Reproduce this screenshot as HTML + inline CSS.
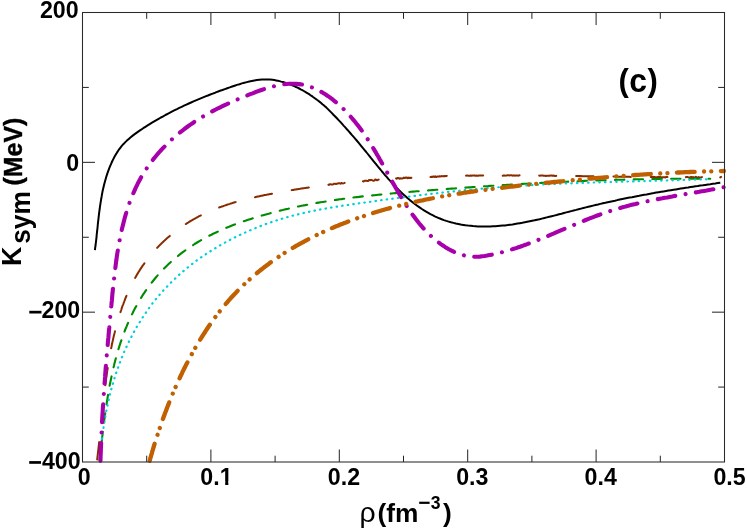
<!DOCTYPE html>
<html><head><meta charset="utf-8"><title>Ksym</title>
<style>
html,body{margin:0;padding:0;background:#fff;}
body{width:747px;height:531px;overflow:hidden;position:relative;font-family:"Liberation Sans",sans-serif;}
</style></head><body>
<svg width="747" height="531" viewBox="0 0 747 531" style="position:absolute;left:0;top:0;display:block;will-change:transform">
<rect x="0" y="0" width="747" height="531" fill="#fff"/>
<path d="M146.70,462.0 v-6.3 M146.70,12.5 v6.3 M210.90,462.0 v-12.5 M210.90,12.5 v12.5 M275.10,462.0 v-6.3 M275.10,12.5 v6.3 M339.30,462.0 v-12.5 M339.30,12.5 v12.5 M403.50,462.0 v-6.3 M403.50,12.5 v6.3 M467.70,462.0 v-12.5 M467.70,12.5 v12.5 M531.90,462.0 v-6.3 M531.90,12.5 v6.3 M596.10,462.0 v-12.5 M596.10,12.5 v12.5 M660.30,462.0 v-6.3 M660.30,12.5 v6.3 M82.5,87.42 h6.3 M724.5,87.42 h-6.3 M82.5,162.33 h12.5 M724.5,162.33 h-12.5 M82.5,237.25 h6.3 M724.5,237.25 h-6.3 M82.5,312.17 h12.5 M724.5,312.17 h-12.5 M82.5,387.08 h6.3 M724.5,387.08 h-6.3" fill="none" stroke="#222" stroke-width="1"/>
<clipPath id="cp"><rect x="82.5" y="12.5" width="645.0" height="451.4"/></clipPath>
<g fill="none" stroke-linejoin="round" clip-path="url(#cp)">
<path d="M94.9,250.1 L95.2,247.6 L95.6,245.0 L95.9,242.5 L96.2,239.9 L96.5,237.3 L96.7,234.8 L97.0,232.2 L97.3,229.6 L97.6,227.0 L97.8,224.5 L98.1,221.9 L98.4,219.3 L98.7,216.7 L99.0,214.2 L99.3,211.6 L99.7,209.0 L100.0,206.4 L100.4,203.9 L100.8,201.3 L101.2,198.8 L101.7,196.2 L102.1,193.7 L102.6,191.1 L103.2,188.6 L103.8,186.1 L104.4,183.6 L105.1,181.1 L105.8,178.6 L106.5,176.1 L107.3,173.6 L108.2,171.1 L109.1,168.7 L110.0,166.3 L111.1,163.9 L112.1,161.5 L113.3,159.1 L114.5,156.8 L115.8,154.6 L117.1,152.4 L118.5,150.2 L120.1,148.1 L121.6,146.1 L123.3,144.2 L125.1,142.4 L126.9,140.6 L128.8,138.9 L130.7,137.2 L132.7,135.6 L134.7,134.1 L136.8,132.6 L138.9,131.1 L141.1,129.7 L143.2,128.2 L145.4,126.8 L147.6,125.4 L149.7,124.1 L152.0,122.7 L154.2,121.4 L156.4,120.1 L158.6,118.8 L160.9,117.5 L163.2,116.3 L165.4,115.0 L167.7,113.8 L170.0,112.6 L172.3,111.4 L174.7,110.2 L177.0,109.1 L179.3,107.9 L181.7,106.8 L184.0,105.7 L186.4,104.6 L188.8,103.5 L191.1,102.5 L193.5,101.4 L195.9,100.4 L198.3,99.4 L200.7,98.4 L203.1,97.4 L205.5,96.4 L207.9,95.5 L210.3,94.5 L212.7,93.6 L215.2,92.7 L217.6,91.7 L220.0,90.8 L222.4,90.0 L224.9,89.1 L227.3,88.2 L229.7,87.4 L232.2,86.5 L234.6,85.7 L237.0,84.9 L239.5,84.2 L241.9,83.4 L244.4,82.7 L246.9,82.1 L249.3,81.5 L251.8,81.0 L254.4,80.5 L256.9,80.1 L259.4,79.8 L262.0,79.6 L264.6,79.5 L267.3,79.5 L269.9,79.6 L272.6,79.8 L274.4,80.1 L276.1,80.4 L277.8,80.7 L279.5,81.1 L281.2,81.6 L282.9,82.0 L284.6,82.5 L286.3,83.1 L287.9,83.6 L289.6,84.2 L291.2,84.9 L292.8,85.5 L294.4,86.2 L296.0,87.0 L297.6,87.7 L299.2,88.5 L300.7,89.3 L302.3,90.1 L303.8,91.0 L305.3,91.9 L306.8,92.8 L308.3,93.7 L309.8,94.7 L311.2,95.7 L312.7,96.7 L314.1,97.7 L315.5,98.7 L316.9,99.8 L318.3,100.8 L319.7,101.9 L321.1,103.0 L322.4,104.2 L323.8,105.3 L325.1,106.4 L326.4,107.6 L328.2,109.4 L329.9,111.1 L331.7,112.9 L333.4,114.7 L335.2,116.5 L336.9,118.3 L338.6,120.1 L340.3,121.9 L341.9,123.7 L343.6,125.6 L345.3,127.4 L346.9,129.3 L348.6,131.1 L350.2,133.0 L351.8,134.9 L353.4,136.7 L355.1,138.6 L356.7,140.5 L358.3,142.4 L359.9,144.3 L361.5,146.3 L363.0,148.2 L364.6,150.1 L366.2,152.0 L367.8,154.0 L369.3,155.9 L370.9,157.9 L372.5,159.8 L374.1,161.8 L375.6,163.7 L377.2,165.7 L378.8,167.6 L380.4,169.5 L382.0,171.5 L383.6,173.4 L385.2,175.3 L386.9,177.2 L388.5,179.1 L390.2,180.9 L391.9,182.8 L393.6,184.6 L395.3,186.4 L397.1,188.2 L398.8,190.0 L400.6,191.8 L402.4,193.5 L404.3,195.2 L406.1,196.8 L408.0,198.5 L409.9,200.1 L411.9,201.7 L413.8,203.2 L415.8,204.7 L417.8,206.2 L419.9,207.6 L421.9,209.0 L424.0,210.3 L426.1,211.6 L428.3,212.9 L430.4,214.1 L432.6,215.2 L434.8,216.3 L437.1,217.3 L439.3,218.3 L441.6,219.2 L443.9,220.1 L446.3,220.9 L448.6,221.6 L451.0,222.3 L453.4,222.9 L455.8,223.5 L458.3,224.0 L460.7,224.5 L463.2,224.9 L465.6,225.3 L468.1,225.6 L470.6,225.8 L473.0,226.1 L475.5,226.2 L478.0,226.4 L480.5,226.5 L482.9,226.5 L485.4,226.5 L487.9,226.5 L490.3,226.4 L492.8,226.3 L495.3,226.2 L497.7,226.0 L500.2,225.8 L502.7,225.6 L505.1,225.4 L507.6,225.1 L510.0,224.7 L512.5,224.4 L515.0,224.0 L517.4,223.6 L519.9,223.2 L522.3,222.8 L524.8,222.3 L527.2,221.8 L529.7,221.3 L532.1,220.8 L534.6,220.3 L537.1,219.7 L539.5,219.2 L541.9,218.6 L544.4,218.0 L546.8,217.4 L549.3,216.8 L551.7,216.2 L554.2,215.6 L556.6,215.0 L559.1,214.3 L561.5,213.7 L563.9,213.0 L566.4,212.4 L568.8,211.8 L571.3,211.1 L573.7,210.5 L576.1,209.9 L578.6,209.2 L581.0,208.6 L583.4,208.0 L585.9,207.4 L588.3,206.8 L590.7,206.2 L593.1,205.6 L595.6,205.0 L598.0,204.5 L600.4,203.9 L602.9,203.3 L605.3,202.8 L607.7,202.2 L610.1,201.7 L612.6,201.2 L615.0,200.7 L617.4,200.1 L619.8,199.6 L622.3,199.1 L624.7,198.6 L627.1,198.1 L629.5,197.6 L632.0,197.2 L634.4,196.7 L636.8,196.2 L639.2,195.8 L641.7,195.3 L644.1,194.8 L646.5,194.4 L649.0,193.9 L651.4,193.5 L653.8,193.1 L656.3,192.6 L658.7,192.2 L661.1,191.8 L663.6,191.4 L666.0,191.0 L668.5,190.6 L670.9,190.2 L673.4,189.8 L675.8,189.4 L678.3,189.0 L680.7,188.6 L683.2,188.2 L685.6,187.8 L688.1,187.5 L690.5,187.1 L693.0,186.7 L695.5,186.3 L697.9,186.0 L700.4,185.6 L702.9,185.3 L705.4,184.9 L707.9,184.5 L710.3,184.2 L712.8,183.8 L715.3,183.5 L717.8,183.1 L720.3,182.8" stroke="#000" stroke-width="2.0" stroke-dashoffset="0"/>
<path d="M97.0,460.9 L97.1,460.1 L97.2,459.2 L97.3,458.4 L97.4,457.5 L97.5,456.7 L97.6,455.8 L97.7,455.0 L97.8,454.1 L97.9,453.2 L98.0,452.4 L98.1,451.5 L98.2,450.7 L98.3,449.8 L98.4,449.0 L98.5,448.1 L98.6,447.2 L98.7,446.4 L98.8,445.5 L98.9,444.6 L99.0,443.8 L99.1,442.9 L99.2,442.0 L99.2,441.2 L99.3,440.3 L99.4,439.4 L99.5,438.6 L99.6,437.7 L99.7,436.8 L99.8,435.9 L99.9,435.1 L100.0,434.2 L100.1,433.3 L100.2,432.4 L100.2,431.6 L100.3,430.7 L100.4,429.8 L100.5,428.9 L100.6,428.1 L100.7,427.2 L100.8,426.3 L100.9,425.4 L101.0,424.5 L101.1,423.7 L101.1,422.8 L101.2,421.9 L101.3,421.0 L101.4,420.1 L101.5,419.3 L101.6,418.4 L101.7,417.5 L101.8,416.6 L101.9,415.7 L102.0,414.8 L102.0,413.9 L102.1,413.1 L102.2,412.2 L102.3,411.3 L102.4,410.4 L102.5,409.5 L102.6,408.6 L102.7,407.7 L102.8,406.8 L102.9,405.9 L103.0,405.0 L103.1,404.2 L103.2,403.3 L103.3,402.4 L103.4,401.5 L103.5,400.6 L103.6,399.7 L103.7,398.8 L103.8,397.9 L103.9,397.0 L104.0,396.1 L104.1,395.2 L104.2,394.3 L104.3,393.4 L104.4,392.5 L104.5,391.6 L104.6,390.7 L104.7,389.8 L104.8,389.0 L104.9,388.1 L105.0,387.2 L105.2,386.3 L105.3,385.4 L105.4,384.5 L105.5,383.6 L105.6,382.7 L105.7,381.8 L105.9,380.9 L106.0,380.0 L106.1,379.1 L106.2,378.2 L106.3,377.3 L106.5,376.4 L106.6,375.5 L106.7,374.6 L106.9,373.7 L107.0,372.8 L107.1,371.9 L107.2,371.0 L107.4,370.1 L107.5,369.2 L107.7,368.3 L107.8,367.4 L107.9,366.5 L108.1,365.6 L108.2,364.7 L108.4,363.8 L108.5,362.9 L108.7,362.0 L108.8,361.1 L109.0,360.2 L109.1,359.3 L109.3,358.4 L109.4,357.5 L109.6,356.6 L109.8,355.7 L109.9,354.8 L110.1,353.9 L110.3,353.0 L110.4,352.1 L110.6,351.2 L110.8,350.3 L110.9,349.4 L111.1,348.5 L111.3,347.6 L111.5,346.7 L111.7,345.8 L111.8,344.9 L112.0,344.1 L112.2,343.2 L112.4,342.3 L112.6,341.4 L112.8,340.5 L113.0,339.6 L113.2,338.7 L113.4,337.8 L113.6,336.9 L113.8,336.0 L114.0,335.1 L114.2,334.2 L114.5,333.3 L114.7,332.5 L114.9,331.6 L115.1,330.7 L115.3,329.8 L115.6,328.9 L115.8,328.0 L116.0,327.1 L116.3,326.3 L116.5,325.4 L116.7,324.5 L117.0,323.6 L117.2,322.7 L117.5,321.9 L117.7,321.0 L118.0,320.1 L118.2,319.2 L118.5,318.4 L118.8,317.5 L119.0,316.6 L119.3,315.8 L119.6,314.9 L119.8,314.0 L120.1,313.2 L120.4,312.3 L120.7,311.4 L121.0,310.6 L121.3,309.7 L121.5,308.9 L121.8,308.0 L122.1,307.2 L122.4,306.3 L122.7,305.4 L123.1,304.6 L123.4,303.8 L123.7,302.9 L124.0,302.1 L124.3,301.2 L124.7,300.4 L125.0,299.5 L125.3,298.7 L125.6,297.9 L126.0,297.0 L126.3,296.2 L126.7,295.4 L127.0,294.6 L127.4,293.7 L127.7,292.9 L128.1,292.1 L128.5,291.3 L128.8,290.5 L129.2,289.6 L129.6,288.8 L130.0,288.0 L130.3,287.2 L130.7,286.4 L131.1,285.6 L131.5,284.8 L131.9,284.0 L132.3,283.2 L132.7,282.4 L133.1,281.6 L133.5,280.9 L134.0,280.1 L134.4,279.3 L134.8,278.5 L135.2,277.7 L135.7,277.0 L136.1,276.2 L136.5,275.4 L137.0,274.7 L137.4,273.9 L137.9,273.1 L138.4,272.4 L138.8,271.6 L139.3,270.9 L139.8,270.1 L140.2,269.4 L140.7,268.7 L141.2,267.9 L141.7,267.2 L142.2,266.4 L142.7,265.7 L143.2,265.0 L143.7,264.3 L144.2,263.6 L144.7,262.8 L145.2,262.1 L145.8,261.4 L146.3,260.7 L146.8,260.0 L147.4,259.3 L147.9,258.6 L148.4,257.9 L149.0,257.2 L149.5,256.5 L150.1,255.9 L150.7,255.2 L151.2,254.5 L151.8,253.8 L152.4,253.2 L152.9,252.5 L153.5,251.8 L154.1,251.2 L154.7,250.5 L155.3,249.9 L155.9,249.2 L156.5,248.6 L157.1,247.9 L157.7,247.3 L158.3,246.6 L158.9,246.0 L159.5,245.4 L160.1,244.8 L160.8,244.1 L161.4,243.5 L162.0,242.9 L162.7,242.3 L163.3,241.7 L163.9,241.1 L164.6,240.5 L165.2,239.9 L165.9,239.3 L166.5,238.7 L167.2,238.1 L167.9,237.5 L168.5,237.0 L169.2,236.4 L169.9,235.8 L170.5,235.3 L171.2,234.7 L171.9,234.1 L172.6,233.6 L173.3,233.0 L174.0,232.5 L174.7,231.9 L175.4,231.4 L176.1,230.9 L176.8,230.3 L177.5,229.8 L178.2,229.3 L178.9,228.8 L179.6,228.2 L180.3,227.7 L181.0,227.2 L181.8,226.7 L182.5,226.2 L183.2,225.7 L184.0,225.2 L184.7,224.7 L185.4,224.3 L186.2,223.8 L186.9,223.3 L187.7,222.8 L188.4,222.4 L189.2,221.9 L189.9,221.4 L190.7,221.0 L191.4,220.5 L192.2,220.1 L193.0,219.6 L193.7,219.2 L194.5,218.8 L195.3,218.3 L196.1,217.9 L196.8,217.5 L197.6,217.1 L198.4,216.7 L199.2,216.2 L200.0,215.8 L200.8,215.4 L201.5,215.0 L202.3,214.7 L203.1,214.3 L203.9,213.9 L204.7,213.5 L205.5,213.1 L206.3,212.8 L207.2,212.4 L208.0,212.0 L208.8,211.7 L209.6,211.3 L210.4,211.0 L211.2,210.6 L212.0,210.3 L212.9,209.9 L213.7,209.6 L214.5,209.3 L215.3,208.9 L216.2,208.6 L217.0,208.3 L217.8,208.0 L218.7,207.7 L219.5,207.4 L220.3,207.0 L221.2,206.7 L222.0,206.4 L222.9,206.2 L223.7,205.9 L224.6,205.6 L225.4,205.3 L226.3,205.0 L227.1,204.7 L228.0,204.4 L228.8,204.2 L229.7,203.9 L230.5,203.6 L231.4,203.4 L232.2,203.1 L233.1,202.8 L234.0,202.6 L234.8,202.3 L235.7,202.1 L236.6,201.8 L237.4,201.6 L238.3,201.4 L239.2,201.1 L240.0,200.9 L240.9,200.6 L241.8,200.4 L242.6,200.2 L243.5,199.9 L244.4,199.7 L245.3,199.5 L246.1,199.3 L247.0,199.1 L247.9,198.8 L248.8,198.6 L249.7,198.4 L250.5,198.2 L251.4,198.0 L252.3,197.8 L253.2,197.6 L254.1,197.4 L255.0,197.2 L255.8,197.0 L256.7,196.8 L257.6,196.6 L258.5,196.4 L259.4,196.2 L260.3,196.0 L261.2,195.8 L262.0,195.7 L262.9,195.5 L263.8,195.3 L264.7,195.1 L265.6,194.9 L266.5,194.8 L267.4,194.6 L268.3,194.4 L269.2,194.2 L270.1,194.0 L270.9,193.9 L271.8,193.7 L272.7,193.5 L273.6,193.4 L274.5,193.2 L275.4,193.0 L276.3,192.9 L277.2,192.7 L278.1,192.5 L279.0,192.4 L279.8,192.2 L280.7,192.0 L281.6,191.9 L282.5,191.7 L283.4,191.6 L284.3,191.4 L285.2,191.3 L286.1,191.1 L287.0,190.9 L287.9,190.8 L288.8,190.6 L289.7,190.5 L290.5,190.3 L291.4,190.2 L292.3,190.0 L293.2,189.9 L294.1,189.7 L295.0,189.6 L295.9,189.5 L296.8,189.3 L297.7,189.2 L298.6,189.0 L299.5,188.9 L300.3,188.7 L301.2,188.6 L302.1,188.5 L303.0,188.3 L303.9,188.2 L304.8,188.1 L305.7,187.9 L306.6,187.8 L307.5,187.7 L308.4,187.5 L309.3,187.4 L310.2,187.3 L311.0,187.1 L311.9,187.0 L312.8,186.9 L313.7,186.8 L314.6,186.6 L315.5,186.5 L316.4,186.4 L317.3,186.3 L318.2,186.1 L319.1,186.0 L320.0,185.9 L320.9,185.8 L321.7,185.7 L322.6,185.4 L323.5,185.5 L324.4,185.4 L325.3,185.1 L326.2,185.2 L327.1,184.7 L328.0,184.6 L328.9,184.9 L329.8,184.3 L330.7,184.3 L331.6,184.4 L332.4,184.4 L333.3,184.3 L334.2,183.7 L335.1,183.8 L336.0,184.0 L336.9,183.7 L337.8,183.4 L338.7,183.2 L339.6,183.3 L340.5,183.7 L341.4,182.9 L342.3,183.2 L343.2,183.4 L344.0,183.1 L344.9,182.7 L345.8,182.9 L346.7,182.3 L347.6,182.6 L348.5,182.3 L349.4,182.7 L350.3,182.6 L351.2,182.4 L352.1,182.0 L353.0,182.3 L353.9,182.4 L354.8,181.7 L355.7,181.8 L356.5,181.3 L357.4,181.2 L358.3,181.7 L359.2,181.0 L360.1,181.4 L361.0,180.9 L361.9,181.3 L362.8,181.3 L363.7,181.5 L364.6,180.8 L365.5,180.7 L366.4,180.7 L367.3,180.9 L368.1,180.9 L369.0,180.1 L369.9,180.3 L370.8,179.9 L371.7,180.0 L372.6,180.5 L373.5,180.7 L374.4,180.6 L375.3,179.5 L376.2,179.8 L377.1,180.3 L378.0,179.8 L378.9,179.5 L379.8,180.0 L380.6,180.0 L381.5,179.1 L382.4,179.5 L383.3,179.0 L384.2,179.0 L385.1,179.3 L386.0,178.9 L386.9,179.5 L387.8,178.9 L388.7,178.7 L389.6,179.1 L390.5,178.6 L391.4,178.4 L392.3,179.3 L393.2,178.4 L394.0,178.3 L394.9,178.6 L395.8,178.1 L396.7,178.8 L397.6,178.0 L398.5,177.9 L399.4,178.8 L400.3,178.3 L401.2,178.6 L402.1,178.5 L403.0,178.3 L403.9,177.6 L404.8,178.1 L405.7,177.6 L406.6,177.5 L407.4,178.2 L408.3,177.6 L409.2,178.0 L410.1,177.7 L411.0,177.9 L411.9,177.7 L412.8,178.0 L413.7,177.5 L414.6,177.8 L415.5,177.7 L416.4,177.5 L417.3,177.4 L418.2,177.3 L419.1,177.4 L420.0,177.0 L420.9,177.1 L421.7,177.3 L422.6,177.0 L423.5,176.9 L424.4,176.7 L425.3,177.2 L426.2,177.3 L427.1,177.2 L428.0,177.1 L428.9,176.9 L429.8,176.5 L430.7,177.1 L431.6,176.7 L432.5,176.9 L433.4,176.4 L434.3,176.9 L435.2,176.3 L436.1,177.0 L436.9,176.7 L437.8,176.6 L438.7,176.6 L439.6,176.3 L440.5,176.4 L441.4,176.1 L442.3,176.2 L443.2,176.2 L444.1,176.1 L445.0,176.2 L445.9,175.9 L446.8,175.9 L447.7,176.1 L448.6,176.6 L449.5,176.4 L450.4,176.1 L451.3,175.9 L452.1,175.8 L453.0,176.0 L453.9,176.2 L454.8,176.3 L455.7,176.0 L456.6,176.3 L457.5,176.2 L458.4,176.2 L459.3,175.8 L460.2,175.9 L461.1,175.7 L462.0,176.0 L462.9,175.6 L463.8,175.8 L464.7,175.6 L465.6,175.8 L466.5,175.6 L467.4,175.5 L468.3,175.7 L469.1,175.7 L470.0,175.8 L470.9,175.5 L471.8,175.7 L472.7,175.6 L473.6,175.5 L474.5,175.6 L475.4,175.8 L476.3,175.6 L477.2,175.8 L478.1,175.8 L479.0,175.4 L479.9,175.5 L480.8,175.5 L481.7,175.6 L482.6,175.6 L483.5,175.6 L484.4,175.4 L485.3,175.5 L486.1,175.4 L487.0,175.7 L487.9,175.6 L488.8,175.5 L489.7,175.7 L490.6,175.4 L491.5,175.3 L492.4,175.5 L493.3,175.6 L494.2,175.7 L495.1,175.5 L496.0,175.3 L496.9,175.5 L497.8,175.3 L498.7,175.6 L499.6,175.4 L500.5,175.3 L501.4,175.3 L502.3,175.6 L503.2,175.7 L504.0,175.3 L504.9,175.7 L505.8,175.6 L506.7,175.4 L507.6,175.3 L508.5,175.3 L509.4,175.4 L510.3,175.3 L511.2,175.3 L512.1,175.4 L513.0,175.7 L513.9,175.3 L514.8,175.7 L515.7,175.5 L516.6,175.6 L517.5,175.5 L518.4,175.7 L519.3,175.3 L520.2,175.4 L521.1,175.5 L522.0,175.5 L522.9,175.4 L523.7,175.4 L524.6,175.3 L525.5,175.5 L526.4,175.7 L527.3,175.7 L528.2,175.5 L529.1,175.8 L530.0,175.8 L530.9,175.5 L531.8,175.4 L532.7,175.7 L533.6,175.8 L534.5,175.7 L535.4,175.8 L536.3,175.6 L537.2,175.6 L538.1,175.4 L539.0,175.6 L539.9,175.8 L540.8,175.4 L541.7,175.5 L542.6,175.4 L543.5,175.7 L544.4,175.7 L545.2,175.7 L546.1,175.9 L547.0,175.8 L547.9,175.8 L548.8,175.8 L549.7,175.7 L550.6,175.5 L551.5,175.5 L552.4,175.8 L553.3,175.6 L554.2,175.7 L555.1,175.9 L556.0,175.9 L556.9,175.7 L557.8,175.7 L558.7,175.7 L559.6,175.9 L560.5,175.9 L561.4,175.7 L562.3,175.8 L563.2,175.8 L564.1,175.9 L565.0,175.9 L565.9,176.0 L566.8,175.9 L567.6,176.0 L568.5,176.0 L569.4,176.0 L570.3,176.0 L571.2,176.0 L572.1,176.0 L573.0,176.0 L573.9,176.0 L574.8,176.1 L575.7,176.1 L576.6,176.1 L577.5,176.1 L578.4,176.1 L579.3,176.1 L580.2,176.1 L581.1,176.1 L582.0,176.2 L582.9,176.2 L583.8,176.2 L584.7,176.2 L585.6,176.2 L586.5,176.2 L587.4,176.2 L588.3,176.2 L589.2,176.3 L590.1,176.3 L591.0,176.3 L591.8,176.3 L592.7,176.3 L593.6,176.3 L594.5,176.3 L595.4,176.4 L596.3,176.4 L597.2,176.4 L598.1,176.4 L599.0,176.4 L599.9,176.4 L600.8,176.4 L601.7,176.5 L602.6,176.5 L603.5,176.5 L604.4,176.5 L605.3,176.5 L606.2,176.5 L607.1,176.5 L608.0,176.5 L608.9,176.6 L609.8,176.6 L610.7,176.6 L611.6,176.6 L612.5,176.6 L613.4,176.6 L614.3,176.6 L615.2,176.6 L616.1,176.7 L617.0,176.7 L617.9,176.7 L618.8,176.7 L619.6,176.7 L620.5,176.7 L621.4,176.7 L622.3,176.7 L623.2,176.8 L624.1,176.8 L625.0,176.8 L625.9,176.8 L626.8,176.8 L627.7,176.8 L628.6,176.8 L629.5,176.8 L630.4,176.9 L631.3,176.9 L632.2,176.9 L633.1,176.9 L634.0,176.9 L634.9,176.9 L635.8,176.9 L636.7,176.9 L637.6,176.9 L638.5,177.0 L639.4,177.0 L640.3,177.0 L641.2,177.0 L642.1,177.0 L643.0,177.0 L643.9,177.0 L644.8,177.0 L645.7,177.0 L646.6,177.2 L647.5,177.0 L648.4,177.0 L649.3,177.1 L650.2,177.1 L651.0,176.9 L651.9,177.2 L652.8,176.8 L653.7,177.0 L654.6,177.1 L655.5,177.2 L656.4,177.2 L657.3,177.2 L658.2,176.8 L659.1,177.0 L660.0,177.3 L660.9,177.1 L661.8,177.4 L662.7,177.2 L663.6,177.2 L664.5,177.3 L665.4,177.5 L666.3,176.8 L667.2,176.9 L668.1,176.9 L669.0,177.0 L669.9,176.8 L670.8,177.6 L671.7,176.9 L672.6,177.2 L673.5,177.5 L674.4,177.2 L675.3,177.0 L676.2,177.1 L677.1,177.2 L678.0,177.1 L678.9,177.2 L679.8,177.2 L680.7,176.9 L681.6,177.5 L682.5,177.6 L683.4,177.3 L684.3,176.9 L685.2,177.6 L686.0,177.1 L686.9,177.1 L687.8,177.0 L688.7,177.6 L689.6,177.4 L690.5,177.1 L691.4,177.1 L692.3,177.2 L693.2,177.1 L694.1,177.4 L695.0,177.6 L695.9,176.8 L696.8,177.5 L697.7,177.5 L698.6,177.0 L699.5,177.6 L700.4,177.5 L701.3,177.4 L702.2,176.8 L703.1,177.1 L704.0,177.4 L704.9,177.2 L705.8,176.8 L706.7,177.4 L707.6,177.0 L708.5,176.9 L709.4,177.0 L710.3,176.8 L711.2,177.0 L712.1,176.7 L713.0,177.5 L713.9,176.8 L714.8,176.9 L715.7,176.9 L716.6,177.0 L717.5,176.9 L718.4,177.3 L719.3,176.7 L720.2,177.4 L721.1,176.9" stroke="#882c00" stroke-width="2.0" stroke-linecap="round" stroke-dasharray="17.4 19.97" stroke-dashoffset="-1.5"/>
<path d="M99.5,460.9 L99.7,459.1 L99.9,457.3 L100.1,455.4 L100.3,453.6 L100.5,451.8 L100.7,449.9 L100.9,448.1 L101.2,446.3 L101.4,444.4 L101.6,442.5 L101.8,440.7 L102.0,438.8 L102.2,436.9 L102.5,435.1 L102.7,433.2 L102.9,431.3 L103.1,429.4 L103.4,427.5 L103.6,425.6 L103.8,423.7 L104.1,421.8 L104.3,419.9 L104.6,418.0 L104.8,416.1 L105.1,414.1 L105.4,412.2 L105.6,410.3 L105.9,408.4 L106.2,406.5 L106.5,404.5 L106.8,402.6 L107.1,400.7 L107.4,398.8 L107.7,396.8 L108.0,394.9 L108.3,393.0 L108.7,391.0 L109.0,389.1 L109.4,387.2 L109.7,385.3 L110.1,383.3 L110.5,381.4 L110.9,379.5 L111.3,377.6 L111.7,375.6 L112.1,373.7 L112.5,371.8 L113.0,369.9 L113.4,368.0 L113.9,366.0 L114.3,364.1 L114.8,362.2 L115.3,360.3 L115.8,358.4 L116.3,356.5 L116.9,354.6 L117.4,352.8 L118.0,350.9 L118.5,349.0 L119.1,347.1 L119.7,345.2 L120.3,343.4 L120.9,341.5 L121.6,339.7 L122.2,337.8 L122.9,336.0 L123.5,334.1 L124.2,332.3 L124.9,330.5 L125.6,328.7 L126.4,326.9 L127.1,325.1 L127.9,323.3 L128.7,321.5 L129.5,319.7 L130.3,318.0 L131.1,316.2 L131.9,314.5 L132.8,312.7 L133.6,311.0 L134.5,309.3 L135.4,307.6 L136.4,305.9 L137.3,304.2 L138.2,302.5 L139.2,300.9 L140.2,299.2 L141.2,297.6 L142.2,296.0 L143.2,294.4 L144.3,292.8 L145.4,291.2 L146.5,289.6 L147.6,288.0 L148.7,286.5 L149.8,285.0 L151.0,283.5 L152.2,282.0 L153.4,280.5 L154.6,279.0 L155.8,277.5 L157.0,276.1 L158.3,274.7 L159.6,273.3 L160.9,271.9 L162.2,270.5 L163.5,269.1 L164.8,267.8 L166.2,266.4 L167.6,265.1 L168.9,263.8 L170.3,262.5 L171.8,261.2 L173.2,260.0 L174.6,258.7 L176.1,257.5 L177.6,256.3 L179.0,255.1 L180.5,253.9 L182.1,252.7 L183.6,251.6 L185.1,250.5 L186.7,249.4 L188.2,248.3 L189.8,247.2 L191.4,246.1 L193.0,245.1 L194.6,244.0 L196.3,243.0 L197.9,242.0 L199.5,241.1 L201.2,240.1 L202.9,239.2 L204.6,238.2 L206.3,237.3 L208.0,236.4 L209.7,235.5 L211.4,234.7 L213.1,233.8 L214.9,233.0 L216.6,232.2 L218.4,231.4 L220.1,230.6 L221.9,229.8 L223.7,229.0 L225.4,228.2 L227.2,227.5 L229.0,226.8 L230.8,226.0 L232.6,225.3 L234.5,224.6 L236.3,224.0 L238.1,223.3 L239.9,222.6 L241.8,222.0 L243.6,221.3 L245.4,220.7 L247.3,220.1 L249.1,219.5 L251.0,218.9 L252.8,218.3 L254.7,217.7 L256.5,217.1 L258.4,216.6 L260.2,216.0 L262.1,215.5 L264.0,214.9 L265.8,214.4 L267.7,213.9 L269.6,213.4 L271.4,212.8 L273.3,212.3 L275.2,211.9 L277.0,211.4 L278.9,210.9 L280.8,210.4 L282.7,210.0 L284.6,209.5 L286.4,209.1 L288.3,208.7 L290.2,208.2 L292.1,207.8 L294.0,207.4 L295.9,207.0 L297.8,206.6 L299.7,206.2 L301.6,205.8 L303.4,205.4 L305.3,205.1 L307.2,204.7 L309.1,204.3 L311.0,204.0 L312.9,203.6 L314.8,203.3 L316.7,202.9 L318.7,202.6 L320.6,202.3 L322.5,202.0 L324.4,201.7 L326.3,201.4 L328.2,201.1 L330.1,200.8 L332.0,200.5 L333.9,200.2 L335.8,199.9 L337.8,199.6 L339.7,199.3 L341.6,199.1 L343.5,198.8 L345.4,198.6 L347.3,198.3 L349.3,198.1 L351.2,197.8 L353.1,197.6 L355.0,197.3 L357.0,197.1 L358.9,196.9 L360.8,196.6 L362.7,196.4 L364.6,196.2 L366.6,196.0 L368.5,195.8 L370.4,195.6 L372.4,195.4 L374.3,195.2 L376.2,195.0 L378.1,194.8 L380.1,194.6 L382.0,194.4 L383.9,194.2 L385.9,194.0 L387.8,193.8 L389.7,193.7 L391.6,193.5 L393.6,193.3 L395.5,193.1 L397.4,193.0 L399.4,192.8 L401.3,192.6 L403.2,192.5 L405.2,192.3 L407.1,192.1 L409.0,192.0 L410.9,191.8 L412.9,191.6 L414.8,191.5 L416.7,191.3 L418.7,191.2 L420.6,191.0 L422.5,190.9 L424.5,190.7 L426.4,190.6 L428.3,190.4 L430.2,190.3 L432.2,190.1 L434.1,190.0 L436.0,189.8 L438.0,189.7 L439.9,189.5 L441.8,189.4 L443.7,189.2 L445.7,189.1 L447.6,188.9 L449.5,188.8 L451.5,188.6 L453.4,188.5 L455.3,188.4 L457.2,188.2 L459.2,188.1 L461.1,187.9 L463.0,187.8 L464.9,187.7 L466.9,187.5 L468.8,187.4 L470.7,187.3 L472.6,187.1 L474.6,187.0 L476.5,186.8 L478.4,186.7 L480.3,186.6 L482.3,186.5 L484.2,186.3 L486.1,186.2 L488.0,186.1 L490.0,185.9 L491.9,185.8 L493.8,185.7 L495.7,185.6 L497.7,185.4 L499.6,185.3 L501.5,185.2 L503.4,185.1 L505.4,185.0 L507.3,184.8 L509.2,184.7 L511.1,184.6 L513.1,184.5 L515.0,184.4 L516.9,184.3 L518.8,184.1 L520.8,184.0 L522.7,183.9 L524.6,183.8 L526.5,183.7 L528.5,183.6 L530.4,183.5 L532.3,183.4 L534.2,183.3 L536.2,183.2 L538.1,183.1 L540.0,183.0 L541.9,182.9 L543.9,182.8 L545.8,182.7 L547.7,182.6 L549.6,182.5 L551.6,182.4 L553.5,182.3 L555.4,182.2 L557.3,182.1 L559.3,182.0 L561.2,181.9 L563.1,181.8 L565.0,181.7 L567.0,181.7 L568.9,181.6 L570.8,181.5 L572.7,181.4 L574.7,181.3 L576.6,181.2 L578.5,181.2 L580.5,181.1 L582.4,181.0 L584.3,180.9 L586.2,180.8 L588.2,180.8 L590.1,180.7 L592.0,180.6 L593.9,180.6 L595.9,180.5 L597.8,180.4 L599.7,180.4 L601.7,180.3 L603.6,180.2 L605.5,180.2 L607.5,180.1 L609.4,180.0 L611.3,180.0 L613.2,179.9 L615.2,179.9 L617.1,179.8 L619.0,179.8 L621.0,179.7 L622.9,179.7 L624.8,179.6 L626.8,179.6 L628.7,179.5 L630.6,179.5 L632.6,179.4 L634.5,179.4 L636.4,179.3 L638.4,179.3 L640.3,179.3 L642.2,179.2 L644.2,179.2 L646.1,179.1 L648.0,179.1 L650.0,179.1 L651.9,179.1 L653.8,179.0 L655.8,179.0 L657.7,179.0 L659.7,178.9 L661.6,178.9 L663.5,178.9 L665.5,178.9 L667.4,178.9 L669.4,178.8 L671.3,178.8 L673.2,178.8 L675.2,178.8 L677.1,178.8 L679.1,178.8 L681.0,178.8 L682.9,178.8 L684.9,178.8 L686.8,178.7 L688.8,178.7 L690.7,178.7 L692.7,178.7 L694.6,178.7 L696.5,178.7 L698.5,178.8 L700.4,178.8 L702.4,178.8 L704.3,178.8 L706.3,178.8 L708.2,178.8 L710.2,178.8" stroke="#008c00" stroke-width="2.1" stroke-linecap="round" stroke-dasharray="9.4 9.33" stroke-dashoffset="-1.05"/>
<path d="M99.8,461.3 L99.9,459.4 L100.1,457.6 L100.2,455.7 L100.4,453.9 L100.6,452.0 L100.7,450.2 L100.9,448.3 L101.1,446.4 L101.3,444.6 L101.5,442.7 L101.7,440.8 L102.0,439.0 L102.2,437.1 L102.4,435.2 L102.7,433.4 L102.9,431.5 L103.2,429.6 L103.5,427.7 L103.7,425.9 L104.0,424.0 L104.3,422.1 L104.6,420.2 L105.0,418.4 L105.3,416.5 L105.6,414.6 L106.0,412.8 L106.3,410.9 L106.7,409.0 L107.1,407.2 L107.5,405.3 L107.9,403.4 L108.3,401.6 L108.7,399.7 L109.1,397.9 L109.6,396.0 L110.0,394.1 L110.5,392.3 L111.0,390.5 L111.5,388.6 L112.0,386.8 L112.5,384.9 L113.0,383.1 L113.5,381.3 L114.1,379.4 L114.7,377.6 L115.2,375.8 L115.8,374.0 L116.4,372.2 L117.0,370.4 L117.7,368.6 L118.3,366.8 L119.0,365.0 L119.6,363.2 L120.3,361.4 L121.0,359.6 L121.7,357.8 L122.4,356.1 L123.2,354.3 L123.9,352.5 L124.7,350.8 L125.5,349.1 L126.3,347.3 L127.1,345.6 L127.9,343.9 L128.7,342.1 L129.5,340.4 L130.4,338.7 L131.3,337.0 L132.1,335.3 L133.0,333.7 L133.9,332.0 L134.9,330.3 L135.8,328.7 L136.7,327.0 L137.7,325.4 L138.7,323.7 L139.7,322.1 L140.7,320.5 L141.7,318.9 L142.7,317.3 L143.7,315.7 L144.8,314.2 L145.9,312.6 L146.9,311.0 L148.0,309.5 L149.1,308.0 L150.3,306.4 L151.4,304.9 L152.5,303.4 L153.7,301.9 L154.9,300.4 L156.0,299.0 L157.2,297.5 L158.4,296.1 L159.7,294.6 L160.9,293.2 L162.1,291.8 L163.4,290.4 L164.7,289.0 L166.0,287.7 L167.3,286.3 L168.6,284.9 L169.9,283.6 L171.2,282.3 L172.6,280.9 L173.9,279.6 L175.3,278.4 L176.7,277.1 L178.0,275.8 L179.4,274.5 L180.9,273.3 L182.3,272.1 L183.7,270.8 L185.1,269.6 L186.6,268.4 L188.1,267.2 L189.5,266.0 L191.0,264.9 L192.5,263.7 L194.0,262.6 L195.5,261.4 L197.0,260.3 L198.6,259.2 L200.1,258.1 L201.6,257.0 L203.2,256.0 L204.8,254.9 L206.3,253.8 L207.9,252.8 L209.5,251.8 L211.1,250.8 L212.7,249.7 L214.3,248.8 L216.0,247.8 L217.6,246.8 L219.2,245.8 L220.9,244.9 L222.5,243.9 L224.2,243.0 L225.8,242.1 L227.5,241.2 L229.2,240.3 L230.9,239.4 L232.6,238.6 L234.3,237.7 L236.0,236.8 L237.7,236.0 L239.4,235.2 L241.1,234.4 L242.9,233.6 L244.6,232.8 L246.3,232.0 L248.1,231.2 L249.8,230.5 L251.6,229.7 L253.3,229.0 L255.1,228.3 L256.9,227.5 L258.6,226.8 L260.4,226.2 L262.2,225.5 L264.0,224.8 L265.8,224.1 L267.6,223.5 L269.4,222.9 L271.2,222.2 L273.0,221.6 L274.8,221.0 L276.6,220.4 L278.4,219.9 L280.2,219.3 L282.1,218.7 L283.9,218.2 L285.7,217.6 L287.5,217.1 L289.4,216.6 L291.2,216.1 L293.0,215.6 L294.9,215.1 L296.7,214.7 L298.6,214.2 L300.4,213.8 L302.2,213.3 L304.1,212.9 L305.9,212.5 L307.8,212.1 L309.6,211.7 L311.5,211.3 L313.3,210.9 L315.2,210.5 L317.1,210.1 L318.9,209.8 L320.8,209.4 L322.6,209.1 L324.5,208.7 L326.4,208.4 L328.2,208.1 L330.1,207.7 L332.0,207.4 L333.8,207.1 L335.7,206.8 L337.6,206.5 L339.4,206.2 L341.3,205.9 L343.2,205.6 L345.0,205.4 L346.9,205.1 L348.8,204.8 L350.7,204.5 L352.5,204.2 L354.4,204.0 L356.3,203.7 L358.2,203.4 L360.0,203.2 L361.9,202.9 L363.8,202.6 L365.7,202.4 L367.6,202.1 L369.4,201.9 L371.3,201.6 L373.2,201.3 L375.1,201.1 L377.0,200.8 L378.8,200.6 L380.7,200.3 L382.6,200.1 L384.5,199.8 L386.4,199.5 L388.2,199.3 L390.1,199.0 L392.0,198.8 L393.9,198.5 L395.8,198.3 L397.6,198.0 L399.5,197.8 L401.4,197.6 L403.3,197.3 L405.2,197.1 L407.1,196.8 L408.9,196.6 L410.8,196.3 L412.7,196.1 L414.6,195.9 L416.5,195.6 L418.4,195.4 L420.2,195.2 L422.1,194.9 L424.0,194.7 L425.9,194.5 L427.8,194.3 L429.7,194.0 L431.5,193.8 L433.4,193.6 L435.3,193.4 L437.2,193.2 L439.1,192.9 L441.0,192.7 L442.9,192.5 L444.8,192.3 L446.6,192.1 L448.5,191.9 L450.4,191.7 L452.3,191.5 L454.2,191.3 L456.1,191.1 L458.0,190.9 L459.9,190.7 L461.7,190.5 L463.6,190.3 L465.5,190.1 L467.4,190.0 L469.3,189.8 L471.2,189.6 L473.1,189.4 L475.0,189.2 L476.9,189.1 L478.7,188.9 L480.6,188.7 L482.5,188.6 L484.4,188.4 L486.3,188.3 L488.2,188.1 L490.1,187.9 L492.0,187.8 L493.9,187.6 L495.8,187.5 L497.7,187.3 L499.5,187.2 L501.4,187.1 L503.3,186.9 L505.2,186.8 L507.1,186.7 L509.0,186.5 L510.9,186.4 L512.8,186.3 L514.7,186.2 L516.6,186.0 L518.5,185.9 L520.4,185.8 L522.3,185.7 L524.2,185.6 L526.0,185.5 L527.9,185.3 L529.8,185.2 L531.7,185.1 L533.6,185.0 L535.5,184.9 L537.4,184.8 L539.3,184.7 L541.2,184.6 L543.1,184.5 L545.0,184.4 L546.9,184.3 L548.8,184.3 L550.7,184.2 L552.6,184.1 L554.5,184.0 L556.4,183.9 L558.3,183.8 L560.1,183.7 L562.0,183.7 L563.9,183.6 L565.8,183.5 L567.7,183.4 L569.6,183.4 L571.5,183.3 L573.4,183.2 L575.3,183.1 L577.2,183.1 L579.1,183.0 L581.0,182.9 L582.9,182.9 L584.8,182.8 L586.7,182.7 L588.6,182.7 L590.5,182.6 L592.4,182.5 L594.3,182.5 L596.2,182.4 L598.1,182.4 L600.0,182.3 L601.9,182.2 L603.8,182.2 L605.7,182.1 L607.6,182.1 L609.5,182.0 L611.4,182.0 L613.2,181.9 L615.1,181.8 L617.0,181.8 L618.9,181.7 L620.8,181.7 L622.7,181.6 L624.6,181.6 L626.5,181.5 L628.4,181.5 L630.3,181.4 L632.2,181.4 L634.1,181.3 L636.0,181.3 L637.9,181.2 L639.8,181.2 L641.7,181.1 L643.6,181.1 L645.5,181.0 L647.4,181.0 L649.3,180.9 L651.2,180.9 L653.1,180.8 L655.0,180.8 L656.9,180.7 L658.8,180.7 L660.7,180.6 L662.6,180.6 L664.5,180.5 L666.4,180.5 L668.3,180.4 L670.2,180.4 L672.1,180.3 L674.0,180.3 L675.9,180.2 L677.8,180.2 L679.7,180.1 L681.5,180.0 L683.4,180.0 L685.3,179.9 L687.2,179.9 L689.1,179.8 L691.0,179.8 L692.9,179.7 L694.8,179.6 L696.7,179.6 L698.6,179.5 L700.5,179.5 L702.4,179.4 L704.3,179.3 L706.2,179.3 L708.1,179.2 L710.0,179.1" stroke="#00d0da" stroke-width="2.2" stroke-linecap="round" stroke-dasharray="0.5 5.12" stroke-dashoffset="0"/>
<path d="M100.5,461.8 L100.5,459.2 L100.6,456.7 L100.7,454.1 L100.8,451.6 L100.9,449.0 L101.0,446.5 L101.1,443.9 L101.2,441.4 L101.3,438.8 L101.4,436.3 L101.5,433.8 L101.6,431.3 L101.7,428.8 L101.9,426.3 L102.0,423.8 L102.1,421.3 L102.3,418.8 L102.4,416.3 L102.5,413.8 L102.7,411.3 L102.8,408.8 L103.0,406.3 L103.2,403.8 L103.3,401.4 L103.5,398.9 L103.6,396.4 L103.8,394.0 L104.0,391.5 L104.1,389.0 L104.3,386.6 L104.5,384.1 L104.7,381.6 L104.9,379.2 L105.1,376.7 L105.2,374.3 L105.4,371.8 L105.6,369.4 L105.8,366.9 L106.0,364.4 L106.2,362.0 L106.4,359.5 L106.6,357.1 L106.8,354.6 L107.1,352.2 L107.3,349.7 L107.5,347.3 L107.7,344.8 L107.9,342.3 L108.1,339.9 L108.4,337.4 L108.6,334.9 L108.8,332.5 L109.0,330.0 L109.3,327.5 L109.5,325.1 L109.7,322.6 L110.0,320.1 L110.2,317.6 L110.4,315.1 L110.7,312.7 L110.9,310.2 L111.1,307.7 L111.4,305.2 L111.6,302.7 L111.9,300.2 L112.1,297.7 L112.3,295.1 L112.6,292.6 L112.8,290.1 L113.1,287.6 L113.4,285.1 L113.6,282.5 L113.9,280.0 L114.2,277.5 L114.5,275.0 L114.8,272.5 L115.1,269.9 L115.4,267.4 L115.7,264.9 L116.0,262.4 L116.4,259.9 L116.7,257.4 L117.1,254.8 L117.5,252.3 L117.9,249.8 L118.3,247.4 L118.7,244.9 L119.2,242.4 L119.7,239.9 L120.1,237.4 L120.6,235.0 L121.2,232.5 L121.7,230.1 L122.3,227.6 L122.9,225.2 L123.5,222.8 L124.1,220.4 L124.7,218.0 L125.4,215.6 L126.1,213.2 L126.8,210.9 L127.6,208.5 L128.4,206.2 L129.2,203.8 L130.0,201.5 L130.9,199.2 L131.8,196.9 L132.7,194.6 L133.7,192.4 L134.7,190.1 L135.7,187.9 L136.8,185.7 L137.8,183.5 L139.0,181.3 L140.1,179.2 L141.3,177.0 L142.6,174.9 L143.8,172.8 L145.1,170.7 L146.5,168.7 L147.9,166.6 L149.3,164.6 L150.8,162.6 L152.3,160.6 L153.8,158.6 L155.4,156.7 L157.0,154.8 L158.6,152.9 L160.3,151.0 L162.0,149.2 L163.7,147.4 L165.5,145.6 L167.2,143.8 L169.1,142.0 L170.9,140.3 L172.7,138.6 L174.6,137.0 L176.5,135.3 L178.5,133.7 L180.4,132.1 L182.4,130.6 L184.4,129.0 L186.4,127.5 L188.4,126.0 L190.4,124.6 L192.5,123.2 L194.5,121.8 L196.6,120.5 L198.7,119.1 L200.8,117.8 L202.9,116.6 L205.0,115.3 L207.2,114.1 L209.3,112.9 L211.5,111.7 L213.6,110.6 L215.8,109.5 L218.0,108.3 L220.2,107.3 L222.5,106.2 L224.7,105.1 L227.0,104.1 L229.2,103.0 L231.5,102.0 L233.8,101.0 L236.1,100.0 L238.4,99.0 L240.8,98.1 L243.1,97.1 L245.5,96.1 L247.8,95.2 L250.2,94.2 L252.6,93.3 L255.0,92.3 L257.5,91.4 L259.9,90.5 L262.3,89.7 L264.7,88.9 L267.2,88.1 L269.6,87.4 L272.1,86.7 L274.5,86.1 L277.0,85.5 L279.4,85.0 L281.9,84.6 L284.3,84.3 L286.7,84.0 L289.2,83.8 L291.6,83.7 L294.0,83.8 L296.4,83.9 L298.8,84.1 L301.2,84.4 L303.5,84.8 L305.9,85.4 L308.2,86.1 L310.5,86.9 L312.8,87.7 L315.1,88.7 L317.3,89.8 L319.5,90.9 L321.7,92.1 L323.9,93.4 L326.0,94.8 L328.1,96.2 L330.2,97.7 L332.2,99.2 L334.2,100.8 L336.2,102.4 L338.1,104.0 L340.0,105.7 L341.8,107.4 L343.6,109.1 L345.3,110.9 L347.1,112.7 L348.8,114.5 L350.4,116.3 L352.0,118.2 L353.6,120.1 L355.2,122.0 L356.7,123.9 L358.2,125.8 L359.7,127.8 L361.2,129.8 L362.6,131.8 L364.0,133.8 L365.4,135.9 L366.8,137.9 L368.2,140.0 L369.5,142.1 L370.8,144.2 L372.1,146.3 L373.4,148.4 L374.7,150.6 L376.0,152.7 L377.2,154.9 L378.5,157.0 L379.7,159.2 L381.0,161.4 L382.2,163.6 L383.4,165.8 L384.6,168.0 L385.9,170.2 L387.1,172.4 L388.3,174.6 L389.5,176.8 L390.7,179.0 L392.0,181.2 L393.2,183.4 L394.5,185.6 L395.7,187.8 L397.0,190.0 L398.2,192.2 L399.5,194.4 L400.8,196.5 L402.1,198.7 L403.4,200.9 L404.8,203.0 L406.1,205.1 L407.5,207.3 L408.9,209.4 L410.3,211.4 L411.7,213.5 L413.2,215.6 L414.7,217.6 L416.2,219.6 L417.7,221.5 L419.3,223.5 L420.9,225.4 L422.5,227.3 L424.2,229.1 L425.9,231.0 L427.6,232.7 L429.4,234.5 L431.2,236.2 L433.1,237.9 L434.9,239.5 L436.9,241.1 L438.8,242.6 L440.8,244.1 L442.9,245.5 L445.0,246.9 L447.1,248.2 L449.3,249.5 L451.5,250.6 L453.7,251.7 L456.0,252.7 L458.2,253.6 L460.6,254.4 L462.9,255.1 L465.2,255.7 L467.6,256.2 L470.0,256.5 L472.4,256.7 L474.9,256.8 L477.3,256.7 L479.8,256.6 L482.2,256.3 L484.7,256.0 L487.1,255.6 L489.6,255.1 L492.0,254.6 L494.4,254.1 L496.9,253.5 L499.3,252.9 L501.7,252.3 L504.1,251.7 L506.5,251.0 L508.9,250.3 L511.3,249.6 L513.7,248.8 L516.0,248.1 L518.4,247.3 L520.7,246.5 L523.1,245.6 L525.4,244.8 L527.8,243.9 L530.1,243.0 L532.5,242.2 L534.8,241.3 L537.1,240.3 L539.4,239.4 L541.8,238.5 L544.1,237.5 L546.4,236.6 L548.7,235.6 L551.0,234.6 L553.3,233.7 L555.6,232.7 L557.9,231.7 L560.2,230.7 L562.6,229.7 L564.9,228.7 L567.2,227.8 L569.5,226.8 L571.8,225.8 L574.1,224.8 L576.4,223.8 L578.7,222.9 L581.0,221.9 L583.3,221.0 L585.7,220.0 L588.0,219.1 L590.3,218.2 L592.6,217.3 L595.0,216.4 L597.3,215.5 L599.7,214.7 L602.0,213.8 L604.4,213.0 L606.7,212.2 L609.1,211.4 L611.5,210.6 L613.8,209.9 L616.2,209.1 L618.6,208.4 L621.0,207.7 L623.4,207.1 L625.8,206.4 L628.2,205.8 L630.6,205.1 L633.1,204.5 L635.5,204.0 L637.9,203.4 L640.3,202.8 L642.8,202.3 L645.2,201.7 L647.6,201.2 L650.1,200.7 L652.5,200.2 L655.0,199.7 L657.4,199.2 L659.9,198.7 L662.3,198.3 L664.8,197.8 L667.3,197.4 L669.7,196.9 L672.2,196.5 L674.6,196.0 L677.1,195.6 L679.6,195.2 L682.0,194.7 L684.5,194.3 L687.0,193.9 L689.4,193.5 L691.9,193.0 L694.3,192.6 L696.8,192.2 L699.3,191.8 L701.7,191.3 L704.2,190.9 L706.6,190.5 L709.1,190.0 L711.5,189.6 L713.9,189.1 L716.4,188.7 L718.8,188.2 L721.3,187.7 L723.7,187.2" stroke="#a800aa" stroke-width="4.1" stroke-linecap="round" stroke-dasharray="17.8 10.42 0.01 10.42" stroke-dashoffset="-1.07"/>
<path d="M149.5,461.3 L150.0,459.6 L150.4,458.0 L150.9,456.3 L151.4,454.7 L151.9,453.1 L152.3,451.4 L152.8,449.8 L153.3,448.1 L153.8,446.5 L154.3,444.8 L154.8,443.1 L155.4,441.5 L155.9,439.8 L156.4,438.2 L156.9,436.5 L157.5,434.8 L158.0,433.2 L158.6,431.5 L159.1,429.8 L159.7,428.2 L160.3,426.5 L160.8,424.8 L161.4,423.2 L162.0,421.5 L162.6,419.8 L163.2,418.2 L163.8,416.5 L164.4,414.9 L165.0,413.2 L165.7,411.5 L166.3,409.9 L166.9,408.2 L167.6,406.5 L168.2,404.9 L168.9,403.2 L169.5,401.5 L170.2,399.9 L170.9,398.2 L171.5,396.6 L172.2,394.9 L172.9,393.3 L173.6,391.6 L174.3,390.0 L175.0,388.3 L175.8,386.7 L176.5,385.0 L177.2,383.4 L178.0,381.8 L178.7,380.1 L179.5,378.5 L180.2,376.9 L181.0,375.3 L181.8,373.6 L182.5,372.0 L183.3,370.4 L184.1,368.8 L184.9,367.2 L185.7,365.6 L186.5,364.0 L187.4,362.4 L188.2,360.8 L189.0,359.2 L189.9,357.6 L190.7,356.1 L191.6,354.5 L192.5,352.9 L193.3,351.3 L194.2,349.8 L195.1,348.2 L196.0,346.7 L196.9,345.1 L197.8,343.6 L198.7,342.1 L199.6,340.5 L200.6,339.0 L201.5,337.5 L202.5,336.0 L203.4,334.5 L204.4,333.0 L205.4,331.5 L206.3,330.0 L207.3,328.5 L208.3,327.0 L209.3,325.6 L210.3,324.1 L211.4,322.7 L212.4,321.2 L213.4,319.8 L214.5,318.3 L215.5,316.9 L216.6,315.5 L217.6,314.1 L218.7,312.7 L219.8,311.3 L220.9,309.9 L222.0,308.5 L223.1,307.2 L224.2,305.8 L225.4,304.4 L226.5,303.1 L227.6,301.8 L228.8,300.4 L229.9,299.1 L231.1,297.8 L232.3,296.5 L233.5,295.2 L234.7,293.9 L235.9,292.7 L237.1,291.4 L238.3,290.1 L239.5,288.9 L240.8,287.7 L242.0,286.4 L243.3,285.2 L244.5,284.0 L245.8,282.8 L247.1,281.6 L248.4,280.4 L249.7,279.3 L251.0,278.1 L252.3,277.0 L253.6,275.8 L255.0,274.7 L256.3,273.6 L257.6,272.5 L259.0,271.4 L260.3,270.3 L261.7,269.2 L263.1,268.1 L264.5,267.0 L265.9,266.0 L267.3,264.9 L268.7,263.9 L270.1,262.8 L271.5,261.8 L272.9,260.8 L274.3,259.8 L275.8,258.8 L277.2,257.8 L278.7,256.8 L280.1,255.9 L281.6,254.9 L283.1,253.9 L284.5,253.0 L286.0,252.1 L287.5,251.1 L289.0,250.2 L290.5,249.3 L292.0,248.4 L293.5,247.5 L295.0,246.6 L296.5,245.7 L298.1,244.9 L299.6,244.0 L301.1,243.2 L302.7,242.3 L304.2,241.5 L305.8,240.6 L307.3,239.8 L308.9,239.0 L310.5,238.2 L312.1,237.4 L313.6,236.6 L315.2,235.8 L316.8,235.0 L318.4,234.3 L320.0,233.5 L321.6,232.8 L323.2,232.0 L324.8,231.3 L326.4,230.6 L328.0,229.8 L329.6,229.1 L331.3,228.4 L332.9,227.7 L334.5,227.0 L336.2,226.3 L337.8,225.7 L339.4,225.0 L341.1,224.3 L342.7,223.7 L344.4,223.0 L346.0,222.4 L347.7,221.7 L349.4,221.1 L351.0,220.5 L352.7,219.9 L354.4,219.3 L356.0,218.7 L357.7,218.1 L359.4,217.5 L361.1,216.9 L362.7,216.4 L364.4,215.8 L366.1,215.2 L367.8,214.7 L369.5,214.1 L371.2,213.6 L372.9,213.1 L374.6,212.5 L376.3,212.0 L378.0,211.5 L379.7,211.0 L381.4,210.5 L383.1,210.0 L384.8,209.5 L386.5,209.0 L388.2,208.6 L389.9,208.1 L391.6,207.6 L393.3,207.2 L395.0,206.7 L396.8,206.3 L398.5,205.8 L400.2,205.4 L401.9,205.0 L403.6,204.6 L405.4,204.1 L407.1,203.7 L408.8,203.3 L410.5,202.9 L412.3,202.5 L414.0,202.1 L415.7,201.7 L417.5,201.4 L419.2,201.0 L420.9,200.6 L422.7,200.3 L424.4,199.9 L426.1,199.5 L427.9,199.2 L429.6,198.8 L431.4,198.5 L433.1,198.2 L434.8,197.8 L436.6,197.5 L438.3,197.2 L440.1,196.8 L441.8,196.5 L443.6,196.2 L445.3,195.9 L447.1,195.6 L448.8,195.3 L450.6,195.0 L452.3,194.7 L454.1,194.4 L455.8,194.1 L457.6,193.8 L459.3,193.6 L461.1,193.3 L462.8,193.0 L464.6,192.7 L466.4,192.5 L468.1,192.2 L469.9,192.0 L471.6,191.7 L473.4,191.5 L475.1,191.2 L476.9,191.0 L478.7,190.7 L480.4,190.5 L482.2,190.2 L484.0,190.0 L485.7,189.8 L487.5,189.5 L489.2,189.3 L491.0,189.1 L492.8,188.8 L494.5,188.6 L496.3,188.4 L498.1,188.2 L499.8,188.0 L501.6,187.8 L503.3,187.6 L505.1,187.3 L506.9,187.1 L508.6,186.9 L510.4,186.7 L512.2,186.5 L513.9,186.3 L515.7,186.1 L517.5,185.9 L519.2,185.7 L521.0,185.5 L522.8,185.3 L524.5,185.2 L526.3,185.0 L528.1,184.8 L529.8,184.6 L531.6,184.4 L533.3,184.2 L535.1,184.0 L536.9,183.8 L538.6,183.7 L540.4,183.5 L542.2,183.3 L543.9,183.1 L545.7,182.9 L547.4,182.7 L549.2,182.6 L551.0,182.4 L552.7,182.2 L554.5,182.0 L556.2,181.9 L558.0,181.7 L559.8,181.5 L561.5,181.3 L563.3,181.2 L565.0,181.0 L566.8,180.8 L568.5,180.6 L570.3,180.5 L572.1,180.3 L573.8,180.1 L575.6,180.0 L577.3,179.8 L579.1,179.6 L580.9,179.5 L582.6,179.3 L584.4,179.2 L586.1,179.0 L587.9,178.8 L589.6,178.7 L591.4,178.5 L593.2,178.4 L594.9,178.2 L596.7,178.1 L598.4,177.9 L600.2,177.8 L601.9,177.6 L603.7,177.5 L605.5,177.3 L607.2,177.2 L609.0,177.0 L610.7,176.9 L612.5,176.7 L614.2,176.6 L616.0,176.5 L617.8,176.3 L619.5,176.2 L621.3,176.1 L623.0,175.9 L624.8,175.8 L626.6,175.7 L628.3,175.5 L630.1,175.4 L631.8,175.3 L633.6,175.2 L635.4,175.0 L637.1,174.9 L638.9,174.8 L640.6,174.7 L642.4,174.6 L644.2,174.4 L645.9,174.3 L647.7,174.2 L649.4,174.1 L651.2,174.0 L653.0,173.9 L654.7,173.8 L656.5,173.7 L658.3,173.6 L660.0,173.5 L661.8,173.4 L663.6,173.3 L665.3,173.2 L667.1,173.1 L668.9,173.0 L670.6,172.9 L672.4,172.8 L674.2,172.7 L675.9,172.6 L677.7,172.5 L679.5,172.5 L681.2,172.4 L683.0,172.3 L684.8,172.2 L686.5,172.2 L688.3,172.1 L690.1,172.0 L691.9,171.9 L693.6,171.9 L695.4,171.8 L697.2,171.7 L699.0,171.7 L700.7,171.6 L702.5,171.6 L704.3,171.5 L706.1,171.5 L707.8,171.4 L709.6,171.4 L711.4,171.3 L713.2,171.3 L715.0,171.2 L716.7,171.2 L718.5,171.1 L720.3,171.1 L722.1,171.1 L723.9,171.0" stroke="#c06000" stroke-width="4.3" stroke-linecap="round" stroke-dasharray="17.7 9.44 0.01 7.19 0.01 9.55" stroke-dashoffset="-0.58"/>
</g>
<rect x="82.5" y="12.5" width="642.0" height="449.5" fill="none" stroke="#2a2a2a" stroke-width="1.05"/>
<text x="78.6" y="18.1" font-size="23.2" text-anchor="end" font-family="Liberation Sans, sans-serif" font-weight="bold" fill="#000" >200</text>
<text x="79.2" y="171.0" font-size="23.2" text-anchor="end" font-family="Liberation Sans, sans-serif" font-weight="bold" fill="#000" >0</text>
<text x="80.2" y="317.9" font-size="23.2" text-anchor="end" font-family="Liberation Sans, sans-serif" font-weight="bold" fill="#000" >200</text>
<rect x="29.3" y="310.8" width="12.2" height="2.7" fill="#000"/>
<text x="80.6" y="468.8" font-size="23.2" text-anchor="end" font-family="Liberation Sans, sans-serif" font-weight="bold" fill="#000" >400</text>
<rect x="29.2" y="461.1" width="11.8" height="2.7" fill="#000"/>
<text x="77.8" y="485.4" font-size="23.2" text-anchor="start" font-family="Liberation Sans, sans-serif" font-weight="bold" fill="#000" >0</text>
<text x="200.3" y="485.4" font-size="23.2" text-anchor="start" font-family="Liberation Sans, sans-serif" font-weight="bold" fill="#000" >0.1</text>
<text x="327.8" y="485.4" font-size="23.2" text-anchor="start" font-family="Liberation Sans, sans-serif" font-weight="bold" fill="#000" >0.2</text>
<text x="456.2" y="485.4" font-size="23.2" text-anchor="start" font-family="Liberation Sans, sans-serif" font-weight="bold" fill="#000" >0.3</text>
<text x="584.6" y="485.4" font-size="23.2" text-anchor="start" font-family="Liberation Sans, sans-serif" font-weight="bold" fill="#000" >0.4</text>
<text x="713.4" y="485.4" font-size="23.2" text-anchor="start" font-family="Liberation Sans, sans-serif" font-weight="bold" fill="#000" >0.5</text>
<path d="M220,481.2h5.18v4.6h-5.18z M228.34,481.2h4.7v4.6h-4.7z" fill="#fff"/>
<text x="618.5" y="90.9" font-size="31" text-anchor="start" font-family="Liberation Sans, sans-serif" font-weight="bold" fill="#000" >(</text>
<text transform="translate(629.25,92.1) scale(0.95,1)" x="0" y="0" font-size="33.6" font-family="Liberation Sans, sans-serif" font-weight="bold" fill="#000">c</text>
<text x="647.4" y="90.9" font-size="31" text-anchor="start" font-family="Liberation Sans, sans-serif" font-weight="bold" fill="#000" >)</text>
<text x="359.6" y="521.8" font-size="28.4" font-family="Liberation Sans, sans-serif" fill="#000">ρ</text>
<text x="377.5" y="521.8" font-size="26.3" text-anchor="start" font-family="Liberation Sans, sans-serif" font-weight="bold" fill="#000" >(fm</text>
<rect x="419.2" y="501.7" width="10.4" height="2.2" fill="#000"/>
<text x="430.8" y="509.2" font-size="17.6" text-anchor="start" font-family="Liberation Sans, sans-serif" font-weight="bold" fill="#000" >3</text>
<text x="443.1" y="521.8" font-size="26.3" text-anchor="start" font-family="Liberation Sans, sans-serif" font-weight="bold" fill="#000" >)</text>
<text transform="translate(20.8,265.9) rotate(-90) scale(1.0,1)" x="0" y="0" font-size="26.8" font-family="Liberation Sans, sans-serif" font-weight="bold" fill="#000">K</text>
<text transform="translate(30.4,243.8) rotate(-90) scale(0.965,1)" x="0" y="0" font-size="27.2" font-family="Liberation Sans, sans-serif" font-weight="bold" fill="#000">sym</text>
<text transform="translate(21.9,185.4) rotate(-90) scale(0.945,1)" x="0" y="0" font-size="26.3" font-family="Liberation Sans, sans-serif" font-weight="bold" fill="#000" stroke="#000" stroke-width="0.4" stroke-linejoin="round">(MeV)</text>
</svg>
</body></html>
